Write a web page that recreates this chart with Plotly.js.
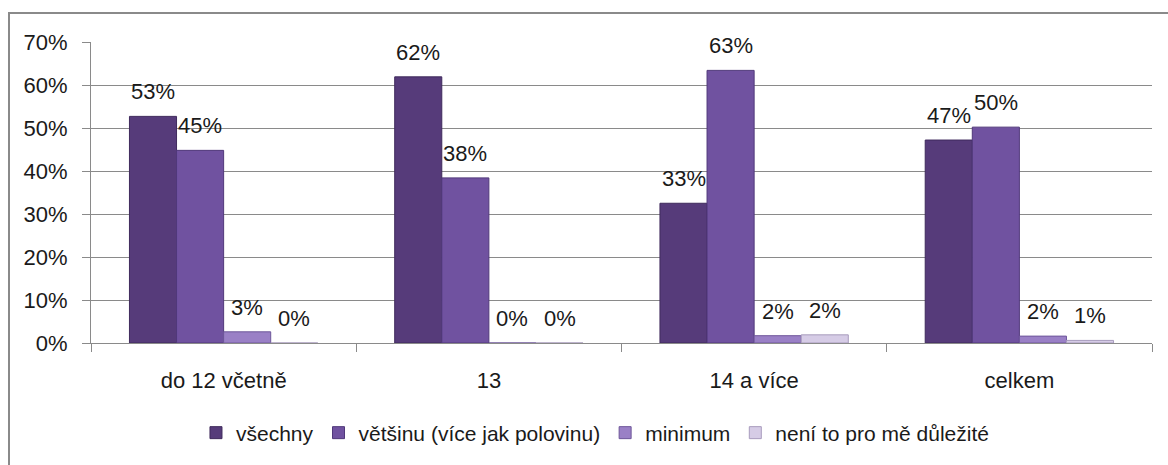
<!DOCTYPE html>
<html>
<head>
<meta charset="utf-8">
<script src="https://cdn.plot.ly/plotly-3.0.1.min.js"></script>
<style>
html,body{margin:0;padding:0;background:#fff;}
#wrap{position:relative;width:1168px;height:465px;overflow:hidden;}
#frame{position:absolute;left:8px;top:12px;width:1200px;height:500px;border:2px solid #8a8a8a;box-sizing:border-box;pointer-events:none;}
#chart{position:absolute;left:0;top:0;width:1168px;height:465px;}
</style>
</head>
<body>
<div id="wrap">
<div id="chart"></div>
<div id="frame"></div>
</div>
<script>
const categories = ["do 12 včetně", "13", "14 a více", "celkem"];
const seriesNames = ["všechny", "většinu (více jak polovinu)", "minimum", "není to pro mě důležité"];
const vsechny = [0.527, 0.619, 0.325, 0.472];
const vetsinu = [0.448, 0.384, 0.634, 0.502];
const minimum = [0.026, 0, 0.017, 0.016];
const neni = [0, 0, 0.019, 0.006];
const yTicks = [0, 0.1, 0.2, 0.3, 0.4, 0.5, 0.6, 0.7];

const colors = ["#563b7a", "#7052a0", "#9a80c6", "#d6cce6"];
const lineColors = ["#3f2a5c", "#50387a", "#6e569a", "#a89bbd"];
const allSeries = [vsechny, vetsinu, minimum, neni];

const W = 1168, H = 465;
const margin = {l: 91, r: 16, t: 42, b: 122};
const bargap = 0.29;
const plotW = W - margin.l - margin.r;
const catW = plotW / categories.length;
const barW = catW * (1 - bargap) / allSeries.length;

const traces = allSeries.map((vals, i) => ({
  type: "bar",
  name: seriesNames[i],
  x: categories,
  y: vals,
  marker: {color: colors[i], line: {color: lineColors[i], width: 1}},
  hoverinfo: "x+y+name"
}));

const annotations = [];
allSeries.forEach((vals, i) => {
  vals.forEach((v, j) => {
    annotations.push({
      x: j, y: v, xref: "x", yref: "y",
      xshift: (i - (allSeries.length - 1) / 2) * barW,
      yshift: 10,
      yanchor: "bottom", xanchor: "center",
      showarrow: false,
      text: Math.round(v * 100) + "%",
      font: {family: "Liberation Sans, Arial, sans-serif", size: 22, color: "#1a1a1a"}
    });
  });
});

const layout = {
  width: W,
  height: H,
  margin: margin,
  paper_bgcolor: "rgba(0,0,0,0)",
  plot_bgcolor: "#fff",
  barmode: "group",
  bargap: bargap,
  bargroupgap: 0,
  font: {family: "Liberation Sans, Arial, sans-serif", color: "#1a1a1a"},
  annotations: annotations,
  xaxis: {
    type: "category",
    categoryorder: "array",
    categoryarray: categories,
    range: [-0.5, categories.length - 0.5],
    tickson: "boundaries",
    ticks: "outside",
    ticklen: 8,
    tickcolor: "#8a8a8a",
    showline: true,
    linecolor: "#8a8a8a",
    linewidth: 1,
    showgrid: false,
    tickangle: 0,
    tickfont: {size: 22, color: "#1a1a1a"},
    ticklabelstandoff: 18
  },
  yaxis: {
    range: [0, 0.7],
    tickvals: yTicks,
    tickformat: ".0%",
    ticks: "outside",
    ticklen: 8,
    tickcolor: "#8a8a8a",
    showline: true,
    linecolor: "#8a8a8a",
    linewidth: 1,
    showgrid: true,
    gridcolor: "#8a8a8a",
    gridwidth: 1,
    zeroline: false,
    tickfont: {size: 22, color: "#1a1a1a"},
    ticklabelstandoff: 10
  },
  legend: {
    orientation: "h",
    x: 0.475,
    xanchor: "center",
    y: -0.299,
    yanchor: "middle",
    font: {size: 21, color: "#1a1a1a"},
    itemwidth: 30,
    tracegroupgap: 0,
    bgcolor: "rgba(0,0,0,0)"
  },
  showlegend: true
};

Plotly.newPlot("chart", traces, layout, {displayModeBar: false, staticPlot: true});
</script>
</body>
</html>
